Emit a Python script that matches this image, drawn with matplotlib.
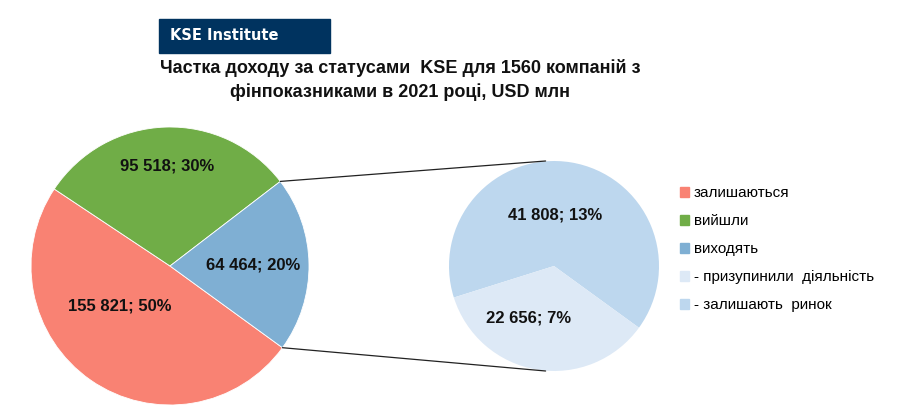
import numpy as np
import matplotlib
matplotlib.use("Agg")
import matplotlib.pyplot as plt
from matplotlib.patches import ConnectionPatch, Patch, Rectangle

plt.rcParams["font.family"] = ["Liberation Sans", "DejaVu Sans"]

# main pie: KSE statuses
main_labels = ["залишаються", "вийшли", "виходять"]
main_values = [155821, 95518, 64464]
main_pct = [50, 30, 20]
main_colors = ["#F98273", "#70AD47", "#7FAFD3"]

# sub pie: breakdown of "виходять"
sub_labels = ["- призупинили  діяльність", "- залишають  ринок"]
sub_values = [22656, 41808]
sub_pct = [7, 13]
sub_colors = ["#DDE9F6", "#BDD7EE"]

title = "Частка доходу за статусами  KSE для 1560 компаній з\nфінпоказниками в 2021 році, USD млн"


def fmt(v, p):
    return f"{v:,}".replace(",", " ") + f"; {p}%"


W, H = 900, 418
fig = plt.figure(figsize=(W / 100, H / 100), dpi=100)


def px_axes(cx, cy, r):
    return fig.add_axes([(cx - r) / W, (H - cy - r) / H, 2 * r / W, 2 * r / H])


# left pie, drawn clockwise so "виходять" sits on the right
ax1 = px_axes(170, 266, 139)
w1, _ = ax1.pie(main_values, colors=main_colors, startangle=-36,
                counterclock=False, radius=1,
                wedgeprops=dict(linewidth=0.6, edgecolor="white"))
ax1.set_xlim(-1, 1)
ax1.set_ylim(-1, 1)
ax1.set_aspect("equal")
ax1.axis("off")

lab_r1 = [0.46, 0.72, 0.60]
lab_da1 = [-17, 0, 0]
for w, v, p, r, da in zip(w1, main_values, main_pct, lab_r1, lab_da1):
    a = np.deg2rad((w.theta1 + w.theta2) / 2 + da)
    ax1.text(r * np.cos(a), r * np.sin(a), fmt(v, p), ha="center", va="center",
             fontsize=12, fontweight="bold", color="#111111")

# right pie (sub)
ax2 = px_axes(554, 266, 105)
w2, _ = ax2.pie(sub_values[::-1], colors=sub_colors[::-1], startangle=-36,
                counterclock=True, radius=1,
                wedgeprops=dict(linewidth=0))
ax2.set_xlim(-1, 1)
ax2.set_ylim(-1, 1)
ax2.set_aspect("equal")
ax2.axis("off")

lab_r2 = [0.49, 0.55]
lab_da2 = [8, -17]
for w, v, p, r, da in zip(w2, sub_values[::-1], sub_pct[::-1], lab_r2, lab_da2):
    a = np.deg2rad((w.theta1 + w.theta2) / 2 + da)
    ax2.text(r * np.cos(a), r * np.sin(a), fmt(v, p), ha="center", va="center",
             fontsize=12, fontweight="bold", color="#111111")

# connecting lines from the blue slice to the sub pie
bw = w1[2]
for th, yy in [(bw.theta2, 1.0), (bw.theta1, -1.0)]:
    t = np.deg2rad(th)
    con = ConnectionPatch(xyA=(np.cos(t), np.sin(t)), coordsA=ax1.transData,
                          xyB=(-0.08, yy), coordsB=ax2.transData,
                          color="#222222", linewidth=0.9)
    fig.add_artist(con)

# header box
fig.add_artist(Rectangle((159 / W, 1 - 53 / H), 171 / W, 34 / H,
                         transform=fig.transFigure, color="#00335F"))
fig.text(170 / W, 1 - 36 / H, "KSE Institute", color="white", fontsize=10.5,
         fontweight="bold", family="DejaVu Sans", va="center", ha="left")

fig.text(400 / W, 1 - 80 / H, title, ha="center", va="center", fontsize=13,
         fontweight="bold", linespacing=1.4, color="#111111")

# legend
handles = [Patch(color=c) for c in main_colors + sub_colors]
fig.legend(handles, main_labels + sub_labels, loc="upper left",
           bbox_to_anchor=(674 / W, 1 - 180 / H), frameon=False, fontsize=11,
           handlelength=0.6, handleheight=0.6, handletextpad=0.3,
           labelspacing=0.92, borderaxespad=0)

fig.savefig("out.png", dpi=100, facecolor="white")
